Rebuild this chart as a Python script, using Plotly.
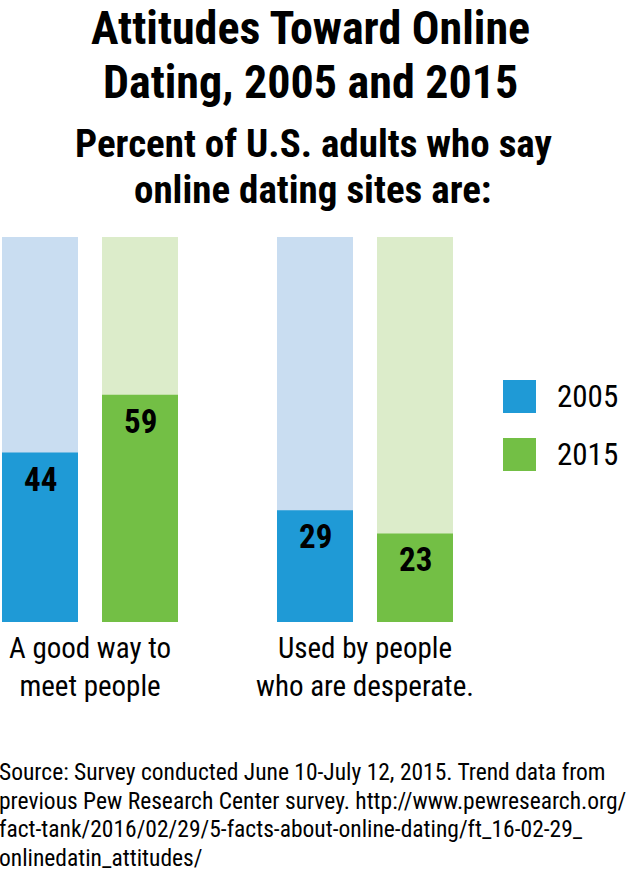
import plotly.graph_objects as go

categories = ["A good way to<br>meet people", "Used by people<br>who are desperate."]
years = ["2005", "2015"]
values_2005 = [44, 29]
values_2015 = [59, 23]
total = [100, 100]

colors_dark = {"2005": "#1f9ad6", "2015": "#73bf45"}
colors_light = {"2005": "#c9ddf1", "2015": "#dcecca"}

FONT = "Roboto Condensed, Open Sans Condensed, sans-serif"

W, H = 631, 872
ML, MR, MT, MB = 0, 171, 237, 250
PW = W - ML - MR
PH = H - MT - MB

def px(x):
    return (x - ML) / PW

def py(y):
    return (H - MB - y) / PH

fig = go.Figure()
series = {"2005": values_2005, "2015": values_2015}
for yr in years:
    fig.add_trace(go.Bar(x=categories, y=total, offsetgroup=yr, marker_color=colors_light[yr],
                         marker_line_width=0, showlegend=False, hoverinfo="skip"))
    fig.add_trace(go.Bar(x=categories, y=series[yr], offsetgroup=yr, name=yr,
                         marker_color=colors_dark[yr], marker_line_width=0, showlegend=False))

annotations = []
for yr, shift in (("2005", -50), ("2015", 50)):
    for cat, v in zip(categories, series[yr]):
        annotations.append(dict(x=cat, y=v, xref="x", yref="y", text=str(v), showarrow=False,
                                xshift=shift, yshift=-5, yanchor="top",
                                font=dict(family=FONT, size=33, color="black", weight="bold")))

# titles
title_lines = [("Attitudes Toward Online", 28), ("Dating, 2005 and 2015", 82)]
for t, yc in title_lines:
    annotations.append(dict(x=px(310), y=py(yc), xref="paper", yref="paper", text=t, showarrow=False,
                            xanchor="center", yanchor="middle", borderpad=0,
                            font=dict(family=FONT, size=46, color="black", weight="bold")))
sub_lines = [("Percent of U.S. adults who say", 144), ("online dating sites are:", 190)]
for t, yc in sub_lines:
    annotations.append(dict(x=px(313), y=py(yc), xref="paper", yref="paper", text=t, showarrow=False,
                            xanchor="center", yanchor="middle", borderpad=0,
                            font=dict(family=FONT, size=39, color="black", weight="bold")))

# legend
shapes = []
for yr, top in (("2005", 380), ("2015", 438)):
    shapes.append(dict(type="rect", xref="paper", yref="paper", x0=px(503), x1=px(536),
                       y0=py(top + 33), y1=py(top), fillcolor=colors_dark[yr], line_width=0))
    annotations.append(dict(x=px(555), y=py(top + 16), xref="paper", yref="paper", text=yr,
                            showarrow=False, xanchor="left", yanchor="middle",
                            font=dict(family=FONT, size=31, color="black")))

footer = ["Source: Survey conducted June 10-July 12, 2015. Trend data from",
          "previous Pew Research Center survey. http://www.pewresearch.org/",
          "fact-tank/2016/02/29/5-facts-about-online-dating/ft_16-02-29_",
          "onlinedatin_attitudes/"]
for i, t in enumerate(footer):
    annotations.append(dict(x=px(-2), y=py(772 + i * 28.5), xref="paper", yref="paper", text=t,
                            showarrow=False, xanchor="left", yanchor="middle", borderpad=0,
                            font=dict(family=FONT, size=23.5, color="black")))

fig.update_layout(
    width=W, height=H, margin=dict(l=ML, r=MR, t=MT, b=MB),
    paper_bgcolor="white", plot_bgcolor="white",
    barmode="group", bargap=0.2727, bargroupgap=0.24,
    showlegend=False,
    xaxis=dict(range=[-90 / 275, (PW - 90) / 275], showgrid=False, zeroline=False, showline=False,
               ticks="", ticklabelstandoff=6,
               tickfont=dict(family=FONT, size=29, color="black"), fixedrange=True),
    yaxis=dict(range=[0, 100], visible=False, fixedrange=True),
    annotations=annotations, shapes=shapes,
    font=dict(family=FONT),
)
fig.write_html("out.html")
